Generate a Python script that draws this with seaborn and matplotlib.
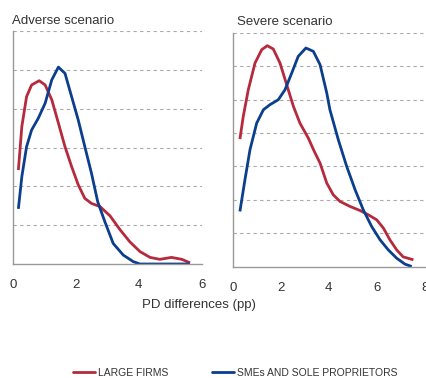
import numpy as np
import pandas as pd
import matplotlib
matplotlib.use("Agg")
import matplotlib.pyplot as plt
import seaborn as sns
from matplotlib.lines import Line2D

sns.set_theme(style="white")
plt.rcParams['font.family'] = ['Liberation Sans', 'DejaVu Sans']

series_names = ["LARGE FIRMS", "SMEs AND SOLE PROPRIETORS"]
colors = ["#B52A3C", "#0B3F8E"]

# Adverse scenario (density of PD differences)
adv_large_x = [0.18, 0.29, 0.44, 0.60, 0.84, 1.03, 1.24, 1.45, 1.66, 1.87, 2.08, 2.29, 2.50, 2.77,
               3.09, 3.41, 3.72, 4.04, 4.36, 4.67, 5.04, 5.37, 5.63]
adv_large_y = [2.42, 3.54, 4.31, 4.61, 4.72, 4.61, 4.23, 3.63, 3.02, 2.51, 2.04, 1.69, 1.56, 1.48,
               1.24, 0.88, 0.57, 0.32, 0.17, 0.12, 0.17, 0.12, 0.03]
adv_sme_x = [0.18, 0.29, 0.44, 0.60, 0.81, 1.03, 1.24, 1.45, 1.66, 1.87, 2.08, 2.29, 2.50, 2.70,
             2.93, 3.19, 3.51, 3.83, 4.04, 4.60, 5.10, 5.63]
adv_sme_y = [1.42, 2.25, 3.02, 3.45, 3.75, 4.14, 4.74, 5.07, 4.91, 4.31, 3.71, 3.02, 2.34, 1.60,
             1.08, 0.53, 0.23, 0.06, 0.0, 0.0, 0.0, 0.0]

# Severe scenario
sev_large_x = [0.30, 0.44, 0.65, 0.93, 1.21, 1.44, 1.69, 1.97, 2.25, 2.53, 2.80, 3.15, 3.40, 3.64,
               3.92, 4.19, 4.47, 4.89, 5.30, 5.65, 6.00, 6.28, 6.55, 6.83, 7.10, 7.53]
sev_large_y = [3.82, 4.50, 5.30, 6.10, 6.50, 6.62, 6.52, 6.10, 5.45, 4.80, 4.30, 3.85, 3.45, 3.10,
               2.50, 2.15, 1.95, 1.80, 1.68, 1.55, 1.40, 1.15, 0.80, 0.50, 0.29, 0.20]
sev_sme_x = [0.30, 0.51, 0.72, 1.00, 1.28, 1.55, 1.90, 2.18, 2.46, 2.73, 3.05, 3.36, 3.64, 3.92,
             4.05, 4.40, 4.75, 5.10, 5.44, 5.79, 6.14, 6.48, 6.83, 7.18, 7.46]
sev_sme_y = [1.65, 2.60, 3.50, 4.30, 4.70, 4.85, 5.00, 5.30, 5.80, 6.30, 6.55, 6.45, 6.05, 5.20,
             4.70, 3.80, 3.00, 2.30, 1.70, 1.20, 0.80, 0.50, 0.25, 0.07, 0.0]

titles = ["Adverse scenario", "Severe scenario"]
xlabel = "PD differences (pp)"


def make_df(lx, ly, sx, sy):
    return pd.concat([
        pd.DataFrame({"x": lx, "y": ly, "s": series_names[0]}),
        pd.DataFrame({"x": sx, "y": sy, "s": series_names[1]}),
    ], ignore_index=True)


fig = plt.figure(figsize=(4.26, 3.78), dpi=100)
W, H = 426, 378


def add_ax(x0, x1, ytop, ybot):
    return fig.add_axes([x0 / W, 1 - ybot / H, (x1 - x0) / W, (ybot - ytop) / H])


ax1 = add_ax(12.7, 201.7, 31, 264)
ax2 = add_ax(232.7, 424.7, 33, 266.5)

panels = [
    (ax1, make_df(adv_large_x, adv_large_y, adv_sme_x, adv_sme_y), 6, [0, 2, 4, 6], 6),
    (ax2, make_df(sev_large_x, sev_large_y, sev_sme_x, sev_sme_y), 7, [0, 2, 4, 6, 8], 8),
]

for ax, df, ymax, xt, xmax in panels:
    sns.lineplot(data=df, x="x", y="y", hue="s", palette=colors, sort=False,
                 estimator=None, lw=2.0, ax=ax, legend=False)
    for ln in ax.lines:
        ln.set_solid_joinstyle("round")
        ln.set_solid_capstyle("butt")
    ax.set_xlim(0, xmax)
    ax.set_ylim(0, ymax)
    ax.set_yticks(np.arange(1, ymax + 1))
    ax.set_yticklabels([])
    ax.set_xticks(xt)
    ax.set_xticklabels([str(v) for v in xt], fontsize=9.5, color="#333333")
    ax.tick_params(axis="x", direction="in", length=3, color="#999999", pad=11)
    ax.tick_params(axis="y", length=0)
    ax.grid(axis="y", ls=(0, (3, 3)), color="#aaaaaa", lw=0.8)
    ax.set_axisbelow(True)
    for sp in ["top", "right"]:
        ax.spines[sp].set_visible(False)
    for sp in ["left", "bottom"]:
        ax.spines[sp].set_color("#999999")
        ax.spines[sp].set_linewidth(1.0)
    ax.set_xlabel("")
    ax.set_ylabel("")
    ax.patch.set_alpha(0)

fig.text(12 / W, 1 - 21 / H, titles[0], fontsize=9.5, color="#333333", va="center", ha="left")
fig.text(237 / W, 1 - 22 / H, titles[1], fontsize=9.5, color="#333333", va="center", ha="left")
fig.text(199 / W, 1 - 305 / H, xlabel, fontsize=9.5, color="#333333", va="center", ha="center")

handles = [Line2D([], [], color=c, lw=2) for c in colors]
leg = fig.legend(handles, series_names, loc="center", ncol=2, frameon=False,
                 bbox_to_anchor=(235 / W, 1 - 373 / H),
                 handlelength=2.1, handletextpad=0.3, columnspacing=4.2,
                 prop={"family": ["Liberation Sans", "DejaVu Sans"], "size": 7.5})
for t in leg.get_texts():
    t.set_color("#333333")

fig.savefig("out.png", dpi=100)
